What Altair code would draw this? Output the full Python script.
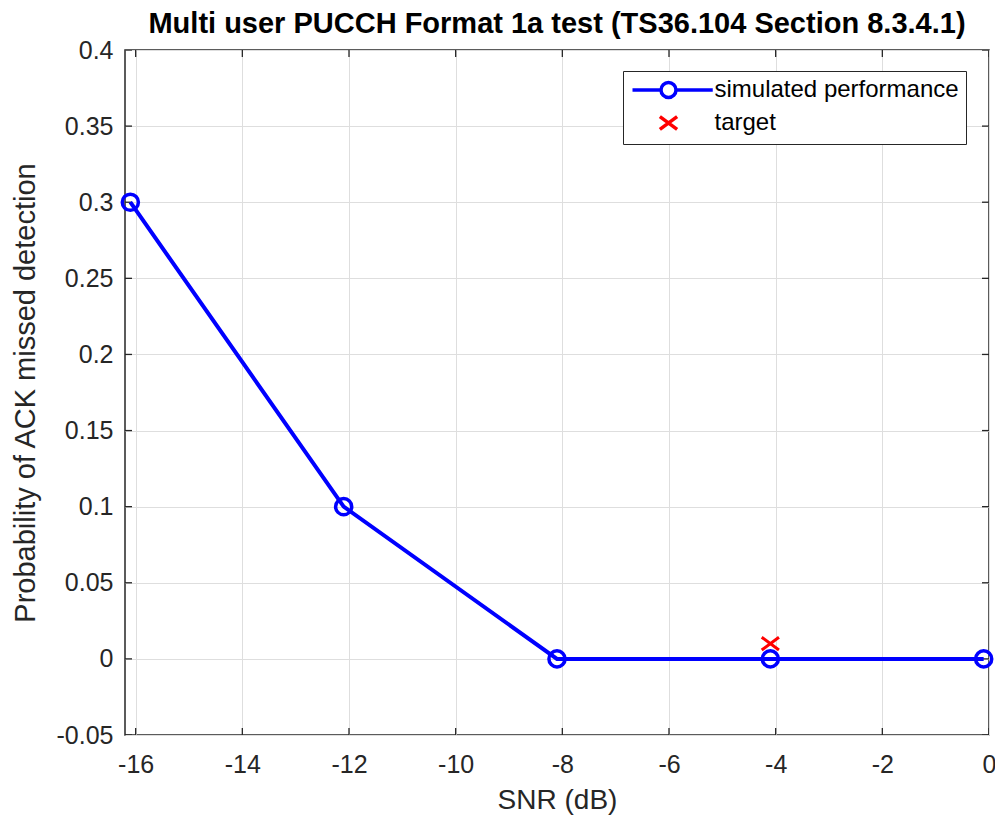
import altair as alt
import pandas as pd

# ---- data ----
snr_db = [-16.1, -12.1, -8.1, -4.1, -0.1]
p_missed = [0.3, 0.1, 0.0, 0.0, 0.0]
target_snr = [-4.1]
target_p = [0.01]
series_names = ["simulated performance", "target"]
x_ticks = [-16, -14, -12, -10, -8, -6, -4, -2, 0]
y_ticks = [-0.05, 0, 0.05, 0.1, 0.15, 0.2, 0.25, 0.3, 0.35, 0.4]
x_domain = [-16.2, 0]
y_domain = [-0.05, 0.4]

FONT = "Liberation Sans"
AX = "#262626"

sim_df = pd.DataFrame({"snr": snr_db, "p": p_missed})
tgt_df = pd.DataFrame({"snr": target_snr, "p": target_p, "series": [series_names[1]] * len(target_snr)})
xt_df = pd.DataFrame({"snr": x_ticks * 2,
                      "p": [y_domain[0]] * len(x_ticks) + [y_domain[1]] * len(x_ticks)})
yt_df = pd.DataFrame({"snr": [x_domain[0]] * len(y_ticks) + [x_domain[1]] * len(y_ticks),
                      "p": y_ticks * 2})

# legend symbols (line with circle, and an x)
SIM_SYMBOL = "M-4.8,0L-1,0M1,0L5.9,0M-1,0A1,1,0,1,0,1,0A1,1,0,1,0,-1,0"
X_SYMBOL = "M-1.15,-0.85L1.15,0.85M-1.15,0.85L1.15,-0.85"

x_enc = alt.X("snr:Q",
              scale=alt.Scale(domain=x_domain, nice=False, zero=False),
              axis=alt.Axis(values=x_ticks, title="SNR (dB)", labelExpr="'' + datum.value",
                            labelPadding=17, titlePadding=9, labelFlush=False,
                            titleFontSize=28))
y_enc = alt.Y("p:Q",
              scale=alt.Scale(domain=y_domain, nice=False, zero=False),
              axis=alt.Axis(values=y_ticks, title="Probability of ACK missed detection",
                            labelExpr="'' + datum.value",
                            labelPadding=12, titlePadding=16, labelFlush=False,
                            titleFontSize=29))

ticks_x = alt.Chart(xt_df).mark_tick(orient="vertical", size=14, thickness=1.3,
                                     color=AX, clip=True, opacity=1).encode(x=x_enc, y=y_enc)
ticks_y = alt.Chart(yt_df).mark_tick(orient="horizontal", size=14, thickness=1.3,
                                     color=AX, clip=True, opacity=1).encode(x=x_enc, y=y_enc)

line = alt.Chart(sim_df).mark_line(color="#0000ff", strokeWidth=4).encode(x=x_enc, y=y_enc)
circles = alt.Chart(sim_df).mark_point(shape="circle", filled=False, size=260, strokeWidth=3.5,
                                       color="#0000ff", opacity=1).encode(x=x_enc, y=y_enc)

legend = alt.Legend(title=None, orient="none", legendX=498, legendY=21,
                    padding=7, strokeColor=AX, fillColor="white",
                    symbolSize=225, symbolStrokeWidth=3.5, symbolOpacity=1,
                    symbolOffset=26.5, labelOffset=34,
                    labelFont=FONT, labelFontSize=24, labelColor="black",
                    labelLimit=400, rowPadding=4)

target = alt.Chart(tgt_df).mark_point(filled=False, size=225, strokeWidth=3, opacity=1).encode(
    x=x_enc, y=y_enc,
    color=alt.Color("series:N",
                    scale=alt.Scale(domain=series_names, range=["#0000ff", "#ff0000"]),
                    legend=legend),
    shape=alt.Shape("series:N",
                    scale=alt.Scale(domain=series_names, range=[SIM_SYMBOL, X_SYMBOL]),
                    legend=legend),
)

chart = alt.layer(ticks_x, ticks_y, line, circles, target).properties(
    width=864, height=685,
    title=alt.TitleParams(text="Multi user PUCCH Format 1a test (TS36.104 Section 8.3.4.1)",
                          font=FONT, fontSize=29, fontWeight="bold", color="black",
                          offset=-1, anchor="middle"),
    background="white",
    padding={"left": 117, "top": 42, "right": 6, "bottom": 80},
    autosize=alt.AutoSizeParams(type="none"),
).configure_view(
    stroke=AX, strokeWidth=1.5
).configure_axis(
    labelFont=FONT, labelFontSize=25, labelColor=AX,
    titleFont=FONT, titleFontSize=27, titleFontWeight="normal", titleColor=AX,
    gridColor="#dedede", gridWidth=1, grid=True,
    domain=False, ticks=False, tickSize=0,
)

chart.save("out.html", embed_options={"renderer": "svg", "actions": False})
